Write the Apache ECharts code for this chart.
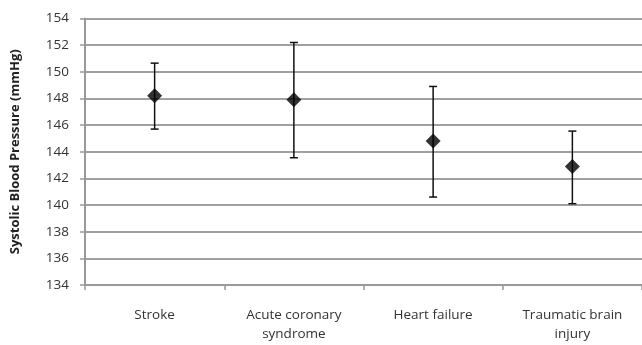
<!DOCTYPE html>
<html><head><meta charset="utf-8">
<script src="https://cdn.jsdelivr.net/npm/echarts@6/dist/echarts.min.js"></script>
<style>html,body{margin:0;padding:0;background:#fff}#c{width:642px;height:345px}</style>
</head><body><div id="c"></div>
<script>
const categories = ['Stroke', 'Acute coronary\nsyndrome', 'Heart failure', 'Traumatic brain\ninjury'];
const means = [148.2, 147.9, 144.8, 142.9];
const upper = [150.65, 152.2, 148.9, 145.55];
const lower = [145.7, 143.55, 140.6, 140.1];
const yMin = 134, yMax = 154, yStep = 2;

const chart = echarts.init(document.getElementById('c'), null, {renderer: 'canvas'});
const font = '"Open Sans", "Liberation Sans", sans-serif';
chart.setOption({
  animation: false,
  grid: {left: 85, right: -3, top: 18.5, bottom: 60},
  xAxis: {
    type: 'category', data: categories, boundaryGap: true,
    axisLine: {lineStyle: {color: '#999', width: 2}},
    axisTick: {show: true, length: 5, lineStyle: {color: '#999', width: 1.5}},
    axisLabel: {color: '#333', fontSize: 13.5, fontFamily: font, margin: 21, lineHeight: 19}
  },
  yAxis: {
    type: 'value', min: yMin, max: yMax, interval: yStep,
    name: 'Systolic Blood Pressure (mmHg)', nameLocation: 'middle', nameGap: 63,
    nameTextStyle: {color: '#222', fontSize: 13, fontWeight: 'bold', fontFamily: font},
    axisLine: {show: true, lineStyle: {color: '#999', width: 2}},
    axisTick: {show: true, length: 5, lineStyle: {color: '#999', width: 1.5}},
    axisLabel: {color: '#333', fontSize: 13.5, fontFamily: font, margin: 16},
    splitLine: {lineStyle: {color: '#a0a0a0', width: 2}}
  },
  series: [
    {
      type: 'custom',
      data: categories.map((c, i) => [i, lower[i], upper[i]]),
      renderItem: function (params, api) {
        const lo = api.coord([api.value(0), api.value(1)]);
        const hi = api.coord([api.value(0), api.value(2)]);
        const w = 4;
        const st = {stroke: '#111', lineWidth: 1.5};
        return {type: 'group', children: [
          {type: 'line', shape: {x1: hi[0], y1: hi[1], x2: lo[0], y2: lo[1]}, style: st},
          {type: 'line', shape: {x1: hi[0]-w, y1: hi[1], x2: hi[0]+w, y2: hi[1]}, style: st},
          {type: 'line', shape: {x1: lo[0]-w, y1: lo[1], x2: lo[0]+w, y2: lo[1]}, style: st}
        ]};
      },
      z: 2
    },
    {
      type: 'scatter', data: means, symbol: 'diamond', symbolSize: [15, 15],
      itemStyle: {color: '#000'}, z: 3
    }
  ]
});
</script></body></html>
